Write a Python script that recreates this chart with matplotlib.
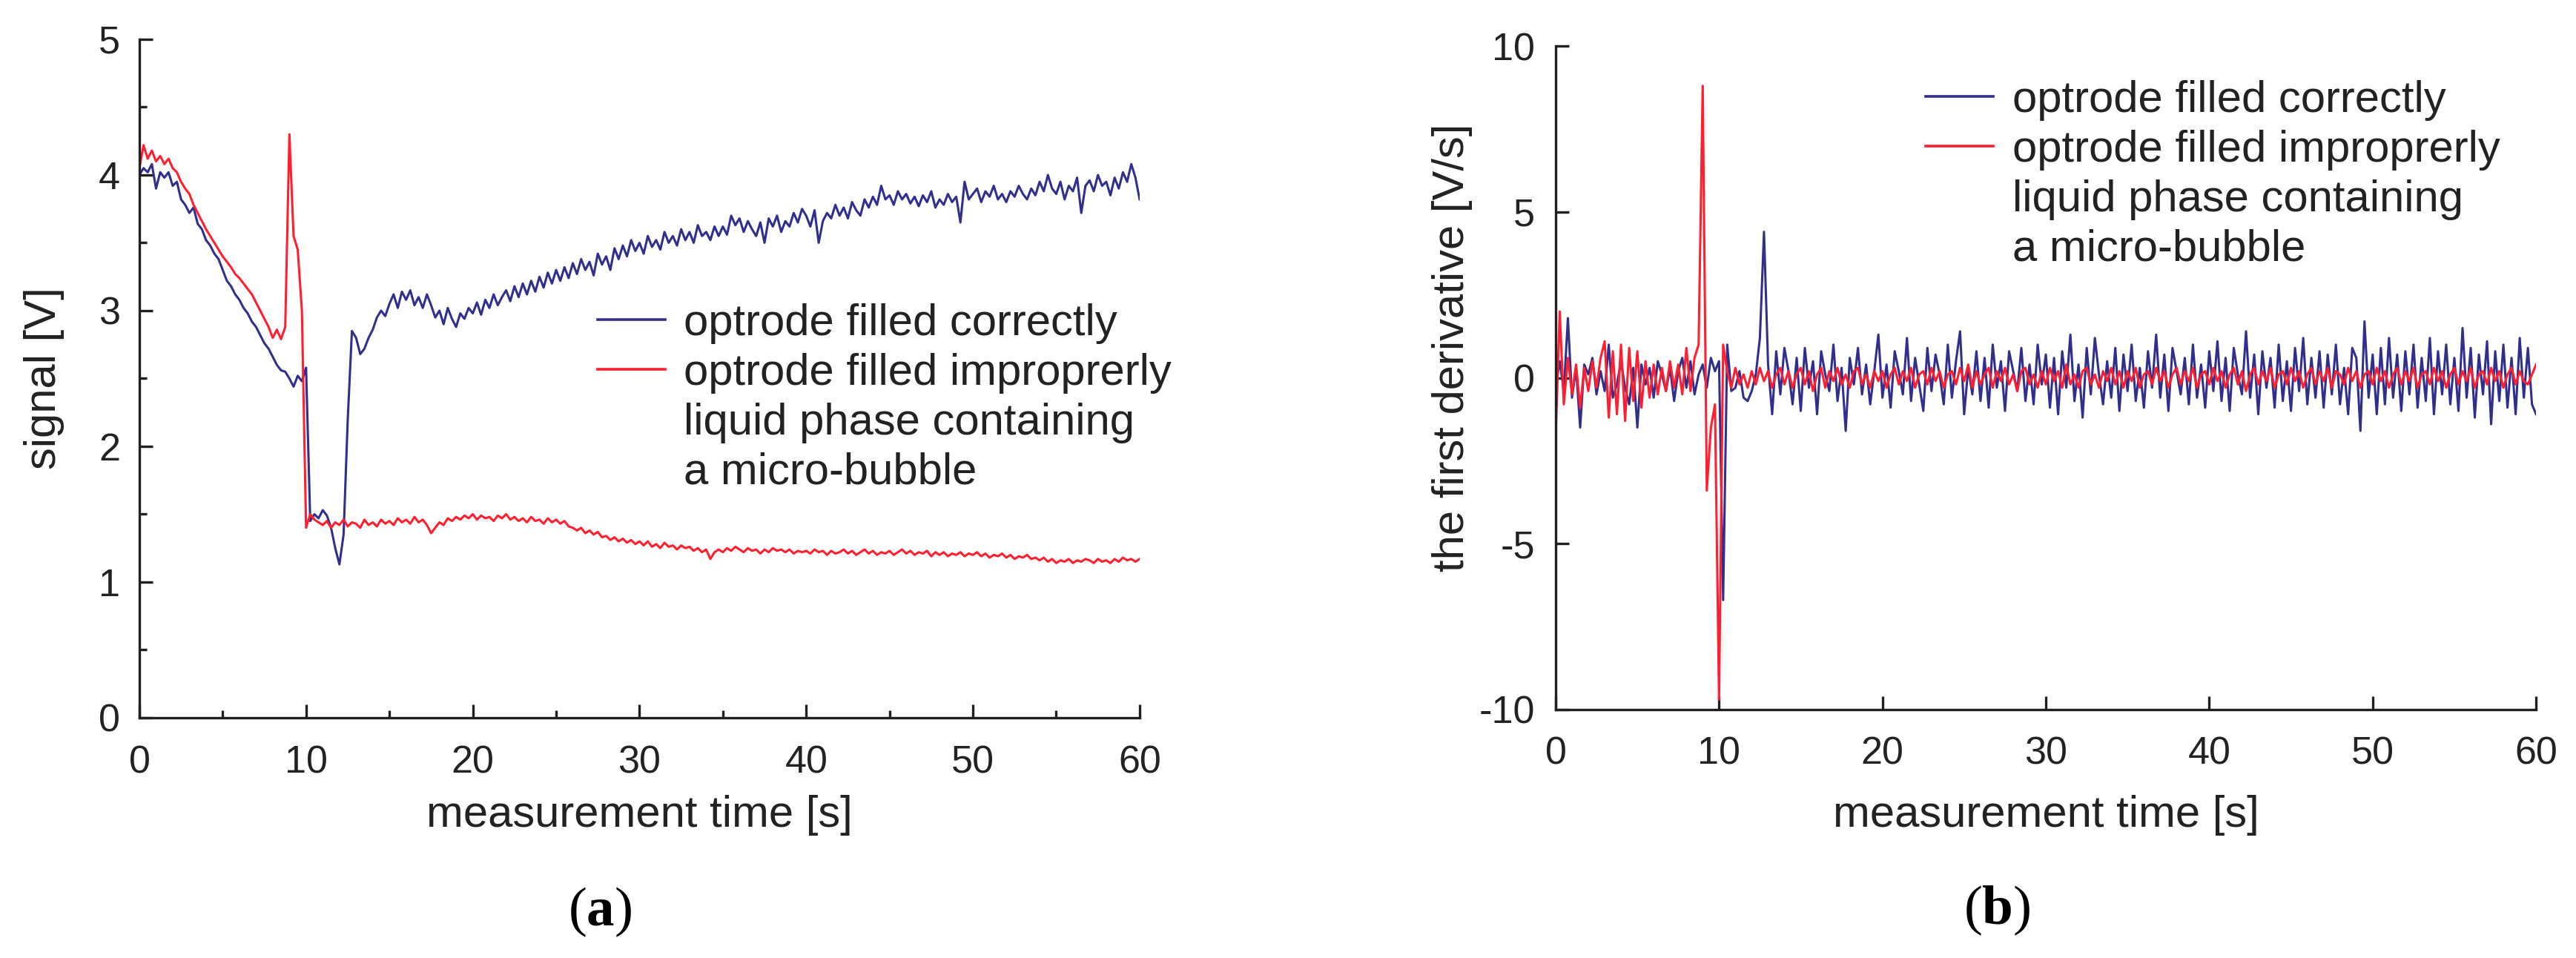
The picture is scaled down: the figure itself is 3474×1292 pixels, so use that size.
import numpy as np
import matplotlib
matplotlib.use("Agg")
import matplotlib.pyplot as plt
from matplotlib.lines import Line2D

# sampling step of the recorded traces [s]
SAMPLE_STEP = 0.25

# (a) signal [V], one value every 0.25 s, 0..60 s
signal_correct = [
    4.00, 4.05, 4.02, 4.08, 3.90, 4.02, 3.98, 4.02, 3.92, 3.95, 3.82, 3.78, 3.72, 3.76, 3.64, 3.60, 3.52, 3.48, 3.42, 3.38,
    3.30, 3.22, 3.18, 3.12, 3.08, 3.02, 2.98, 2.92, 2.88, 2.82, 2.76, 2.72, 2.66, 2.60, 2.56, 2.55, 2.50, 2.44, 2.52, 2.48,
    2.58, 1.45, 1.50, 1.47, 1.53, 1.49, 1.40, 1.25, 1.13, 1.35, 2.20, 2.85, 2.80, 2.68, 2.72, 2.80, 2.86, 2.95, 3.00, 2.96,
    3.05, 3.12, 3.02, 3.14, 3.08, 3.15, 3.04, 3.10, 3.02, 3.12, 3.04, 2.95, 3.00, 2.90, 3.02, 2.94, 2.88, 2.98, 2.94, 3.02,
    2.98, 3.06, 2.97, 3.08, 3.02, 3.12, 3.04, 3.10, 3.15, 3.07, 3.18, 3.10, 3.20, 3.12, 3.22, 3.14, 3.25, 3.17, 3.28, 3.20,
    3.30, 3.22, 3.32, 3.24, 3.35, 3.27, 3.38, 3.30, 3.36, 3.26, 3.42, 3.34, 3.40, 3.30, 3.46, 3.38, 3.48, 3.40, 3.52, 3.44,
    3.50, 3.42, 3.55, 3.47, 3.52, 3.45, 3.58, 3.50, 3.55, 3.48, 3.60, 3.52, 3.58, 3.50, 3.63, 3.55, 3.58, 3.52, 3.62, 3.55,
    3.62, 3.56, 3.70, 3.63, 3.68, 3.58, 3.66, 3.60, 3.55, 3.65, 3.50, 3.68, 3.62, 3.70, 3.58, 3.66, 3.62, 3.72, 3.65, 3.75,
    3.70, 3.62, 3.74, 3.50, 3.66, 3.72, 3.68, 3.78, 3.70, 3.76, 3.68, 3.80, 3.74, 3.70, 3.82, 3.76, 3.84, 3.78, 3.92, 3.82,
    3.85, 3.78, 3.88, 3.82, 3.86, 3.79, 3.84, 3.77, 3.85, 3.80, 3.88, 3.76, 3.82, 3.78, 3.86, 3.80, 3.84, 3.65, 3.95, 3.82,
    3.86, 3.90, 3.80, 3.88, 3.84, 3.92, 3.82, 3.86, 3.80, 3.88, 3.84, 3.92, 3.86, 3.82, 3.90, 3.85, 3.95, 3.88, 4.00, 3.90,
    3.86, 3.95, 3.82, 3.92, 3.88, 3.98, 3.72, 3.92, 3.96, 3.88, 4.00, 3.92, 3.95, 3.85, 3.98, 3.90, 4.02, 3.95, 4.08, 3.98,
    3.82,
]

signal_improper = [
    4.05, 4.22, 4.12, 4.18, 4.10, 4.14, 4.08, 4.12, 4.05, 4.02, 3.95, 3.90, 3.86, 3.78, 3.72, 3.66, 3.60, 3.55, 3.50, 3.45,
    3.40, 3.36, 3.32, 3.27, 3.24, 3.20, 3.16, 3.12, 3.06, 3.00, 2.94, 2.88, 2.80, 2.86, 2.79, 2.88, 4.30, 3.55, 3.45, 3.00,
    1.40, 1.50, 1.46, 1.44, 1.42, 1.45, 1.40, 1.44, 1.42, 1.46, 1.41, 1.44, 1.43, 1.40, 1.46, 1.42, 1.44, 1.41, 1.46, 1.43,
    1.45, 1.42, 1.47, 1.44, 1.46, 1.43, 1.48, 1.44, 1.46, 1.42, 1.36, 1.40, 1.44, 1.42, 1.47, 1.45, 1.48, 1.46, 1.49, 1.47,
    1.50, 1.46, 1.49, 1.47, 1.48, 1.45, 1.49, 1.47, 1.50, 1.46, 1.48, 1.45, 1.47, 1.44, 1.48, 1.45, 1.46, 1.43, 1.47, 1.44,
    1.46, 1.43, 1.45, 1.41, 1.40, 1.38, 1.40, 1.36, 1.38, 1.35, 1.37, 1.33, 1.34, 1.31, 1.33, 1.30, 1.32, 1.29, 1.31, 1.28,
    1.30, 1.27, 1.30, 1.26, 1.28, 1.25, 1.29, 1.26, 1.27, 1.24, 1.27, 1.25, 1.26, 1.23, 1.25, 1.22, 1.24, 1.17, 1.22, 1.24,
    1.22, 1.25, 1.23, 1.26, 1.24, 1.22, 1.25, 1.23, 1.24, 1.21, 1.24, 1.22, 1.25, 1.23, 1.24, 1.22, 1.24, 1.21, 1.23, 1.22,
    1.23, 1.21, 1.24, 1.22, 1.23, 1.20, 1.23, 1.21, 1.22, 1.24, 1.21, 1.23, 1.20, 1.22, 1.24, 1.21, 1.23, 1.20, 1.22, 1.21,
    1.23, 1.20, 1.22, 1.24, 1.21, 1.23, 1.20, 1.22, 1.21, 1.23, 1.19, 1.22, 1.20, 1.22, 1.19, 1.21, 1.20, 1.22, 1.19, 1.21,
    1.20, 1.22, 1.19, 1.21, 1.18, 1.20, 1.19, 1.21, 1.18, 1.20, 1.17, 1.19, 1.18, 1.20, 1.17, 1.18, 1.16, 1.18, 1.15, 1.17,
    1.14, 1.16, 1.15, 1.17, 1.14, 1.16, 1.15, 1.17, 1.16, 1.14, 1.17, 1.15, 1.16, 1.14, 1.17, 1.15, 1.18, 1.16, 1.17, 1.15,
    1.17,
]

# (b) first derivative [V/s], same sampling
deriv_correct = [
    -0.3, 0.5, -0.4, 1.8, -0.6, 0.3, -1.5, 0.4, 0.1, 0.6, -0.5, 0.2, -0.4, 1.0, -0.6, -0.2, 0.5, -0.3, -0.8, 0.3,
    -1.5, 0.4, -0.2, 0.3, -0.6, 0.5, 0.1, -0.4, 0.3, -0.7, 0.2, 0.6, -0.3, 0.5, -0.5, 0.1, 0.4, -0.3, 0.6, 0.2,
    0.5, -6.7, 1.0, -0.4, -0.3, 0.2, -0.6, -0.7, -0.4, 0.1, 1.2, 4.4, 0.4, -1.1, 0.8, -0.5, 0.9, 0.2, -0.8, 0.6,
    -1.0, 0.9, -0.3, 0.5, -1.1, 0.8, 0.1, -0.4, 1.0, -0.7, 0.3, -1.6, 0.6, -0.2, 0.9, -0.5, 0.4, -0.8, 0.2, 1.3,
    -0.6, 0.4, -0.9, 0.8, 0.2, -0.5, 1.2, -0.7, 0.6, -0.2, -1.0, 0.9, -0.4, 0.7, 0.1, -0.8, 1.0, -0.6, 0.5, 1.4,
    -1.1, 0.3, -0.5, 0.8, -0.7, 0.6, -0.9, 1.0, -0.3, 0.5, -1.0, 0.8, 0.2, -0.4, 0.9, -0.7, 0.4, -0.8, 1.0, -0.2,
    0.7, -0.9, 0.6, -1.1, 0.8, -0.3, 1.3, -0.7, 0.4, -1.2, 0.9, -0.5, 1.2, 0.1, -0.8, 0.5, -0.6, 0.9, -1.0, 0.7,
    -0.4, 1.0, -0.7, 0.3, -0.9, 0.8, -0.3, 1.3, -0.6, 0.7, -1.0, 0.9, 0.2, -0.5, 0.6, -0.8, 1.0, -0.6, 0.4, -0.9,
    0.8, -0.4, 1.1, -0.7, 0.6, -1.0, 0.9, 0.1, -0.5, 1.4, -0.6, 0.7, -1.1, 0.8, -0.3, 0.6, -0.9, 1.0, -0.7, 0.5,
    -1.0, 0.9, -0.4, 1.2, -0.8, 0.6, -0.6, 0.8, -0.9, 0.7, -0.5, 1.0, -0.8, 0.3, -1.1, 0.9, 0.6, -1.6, 1.7, -0.6,
    0.7, -1.1, 0.9, -0.8, 1.2, -0.6, 0.7, -1.0, 0.8, -0.5, 1.0, -0.9, 0.6, -0.7, 1.2, -1.1, 0.8, -0.5, 1.0, -0.8,
    0.6, -1.0, 1.5, -0.6, 0.9, -1.2, 0.7, -0.5, 1.1, -1.4, 0.8, -0.7, 1.0, -0.9, 0.6, -1.1, 1.2, -0.6, 0.9, -0.8,
    -1.1,
]

deriv_improper = [
    -1.8, 2.0, -0.8, 0.6, -0.5, 0.4, -0.9, 0.3, -0.4, 0.5, -0.3, 0.6, 1.1, -1.2, 0.8, -1.1, 1.0, -1.3, 0.9, -0.7,
    0.8, -0.9, 0.5, -0.6, 0.4, -0.5, 0.3, -0.4, 0.5, -0.3, 0.4, -0.5, 0.9, -0.4, 0.6, 1.0, 8.8, -3.4, -1.5, -0.8,
    -9.7, 1.0, 0.2, -0.3, 0.3, -0.2, 0.1, -0.3, 0.2, -0.2, 0.3, -0.1, 0.2, -0.3, 0.1, 0.3, -0.2, 0.2, -0.3, 0.1,
    0.3, -0.2, 0.2, -0.4, 0.1, 0.3, -0.3, 0.2, -0.1, 0.3, -0.2, 0.1, -0.3, 0.2, 0.3, -0.2, 0.1, -0.3, 0.2, -0.1,
    0.2, -0.3, 0.1, 0.3, -0.2, 0.2, -0.1, 0.3, -0.3, 0.1, 0.2, -0.2, 0.3, -0.1, 0.2, -0.3, 0.1, 0.2, -0.2, 0.3,
    -0.1, 0.4, -0.3, 0.2, -0.2, 0.1, 0.3, -0.3, 0.2, -0.1, 0.3, -0.2, 0.1, -0.4, 0.2, 0.3, -0.2, 0.1, -0.3, 0.2,
    -0.2, 0.3, -0.1, 0.2, -0.3, 0.4, -0.2, 0.1, -0.3, 0.2, 0.3, -0.2, 0.1, -0.3, 0.2, -0.1, 0.3, -0.2, 0.2, -0.3,
    0.2, -0.1, 0.3, -0.3, 0.1, 0.2, -0.2, 0.3, -0.1, 0.2, -0.3, 0.1, 0.3, -0.2, 0.2, -0.1, 0.3, -0.3, 0.1, 0.2,
    -0.2, 0.3, -0.1, 0.2, -0.3, 0.1, 0.3, -0.2, 0.2, -0.4, 0.1, 0.3, -0.2, 0.2, -0.1, 0.3, -0.3, 0.1, 0.2, -0.2,
    0.3, -0.1, 0.2, -0.3, 0.1, 0.3, -0.2, 0.2, -0.1, 0.3, -0.3, 0.2, 0.1, -0.2, 0.3, -0.1, 0.2, -0.3, 0.1, 0.2,
    -0.2, 0.3, -0.1, 0.2, -0.3, 0.1, 0.3, -0.2, 0.2, -0.1, 0.3, -0.3, 0.1, 0.2, -0.2, 0.3, -0.1, 0.2, -0.3, 0.1,
    0.3, -0.2, 0.2, -0.1, 0.3, -0.3, 0.1, 0.2, -0.2, 0.3, -0.1, 0.2, -0.3, 0.1, 0.3, -0.2, 0.2, -0.1, -0.2, 0.1,
    0.4,
]

legend_labels = [
    "optrode filled correctly",
    "optrode filled improprerly",
    "liquid phase containing",
    "a micro-bubble",
]

x_ticks = [0, 10, 20, 30, 40, 50, 60]
signal_ticks = [0, 1, 2, 3, 4, 5]
deriv_ticks = [-10, -5, 0, 5, 10]

BLUE = "#302f8e"
RED = "#ff1f30"
AXIS_COLOR = "#231f20"

plt.rcParams["font.family"] = ["Liberation Sans", "DejaVu Sans"]
plt.rcParams["axes.unicode_minus"] = False
plt.rcParams["mathtext.fontset"] = "custom"
plt.rcParams["mathtext.bf"] = "Liberation Serif:bold"
plt.rcParams["mathtext.rm"] = "Liberation Serif"


def times(values):
    return np.arange(len(values)) * SAMPLE_STEP


def style_axes(ax, xpad, ypad):
    for side in ("top", "right"):
        ax.spines[side].set_visible(False)
    for side in ("left", "bottom"):
        ax.spines[side].set_linewidth(2.4)
        ax.spines[side].set_color(AXIS_COLOR)
    ax.tick_params(which="both", direction="in", width=2.4, color=AXIS_COLOR,
                   labelsize=37.5, labelcolor="#222222")
    ax.tick_params(which="major", length=13)
    ax.tick_params(which="minor", length=7)
    ax.tick_params(axis="x", pad=xpad)
    ax.tick_params(axis="y", pad=ypad)


def add_legend(ax, anchor):
    handles = [
        Line2D([], [], color=BLUE, lw=2.6),
        Line2D([], [], color=RED, lw=2.6),
        Line2D([], [], color="none"),
        Line2D([], [], color="none"),
    ]
    ax.legend(handles, legend_labels, loc="upper left", bbox_to_anchor=anchor,
              frameon=False, fontsize=43, handlelength=1.53, handletextpad=0.42,
              labelspacing=0.2, borderpad=0, borderaxespad=0,
              labelcolor="#222222")


fig = plt.figure(figsize=(34.74, 12.92), dpi=100)

# ---- (a) signal
ax1 = fig.add_axes([0.0541, 0.2508, 0.3883, 0.7082])
ax1.plot(times(signal_correct), signal_correct, color=BLUE, lw=2.2)
ax1.plot(times(signal_improper), signal_improper, color=RED, lw=2.2)
ax1.set_xlim(0, 60)
ax1.set_ylim(0, 5)
ax1.set_xticks(x_ticks)
ax1.set_xticks([5, 15, 25, 35, 45, 55], minor=True)
ax1.set_yticks(signal_ticks)
ax1.set_yticks([0.5, 1.5, 2.5, 3.5, 4.5], minor=True)
style_axes(ax1, xpad=26, ypad=18.5)
ax1.set_xlabel("measurement time [s]", fontsize=43, color="#222222")
ax1.set_ylabel("signal [V]", fontsize=43, color="#222222")
ax1.xaxis.set_label_coords(0.5, -0.114)
ax1.yaxis.set_label_coords(-0.075, 0.5)
add_legend(ax1, (0.458, 0.611))

# ---- (b) first derivative
ax2 = fig.add_axes([0.6039, 0.2593, 0.3806, 0.6927])
ax2.plot(times(deriv_correct), deriv_correct, color=BLUE, lw=2.2)
ax2.plot(times(deriv_improper), deriv_improper, color=RED, lw=2.2)
ax2.set_xlim(0, 60)
ax2.set_ylim(-10, 10)
ax2.set_xticks(x_ticks)
ax2.set_yticks(deriv_ticks)
style_axes(ax2, xpad=25.5, ypad=20)
ax2.set_xlabel("measurement time [s]", fontsize=43, color="#222222")
ax2.set_ylabel("the first derivative [V/s]", fontsize=43, color="#222222")
ax2.xaxis.set_label_coords(0.5, -0.1285)
ax2.yaxis.set_label_coords(-0.0847, 0.546)
add_legend(ax2, (0.3775, 0.9486))

# panel captions
fig.text(0.2329, 0.048, r"($\mathbf{a}$)", fontsize=54, family="Liberation Serif",
         ha="center", va="center")
fig.text(0.7752, 0.0495, r"($\mathbf{b}$)", fontsize=54, family="Liberation Serif",
         ha="center", va="center")

fig.savefig("out.png", dpi=100, facecolor="white")
